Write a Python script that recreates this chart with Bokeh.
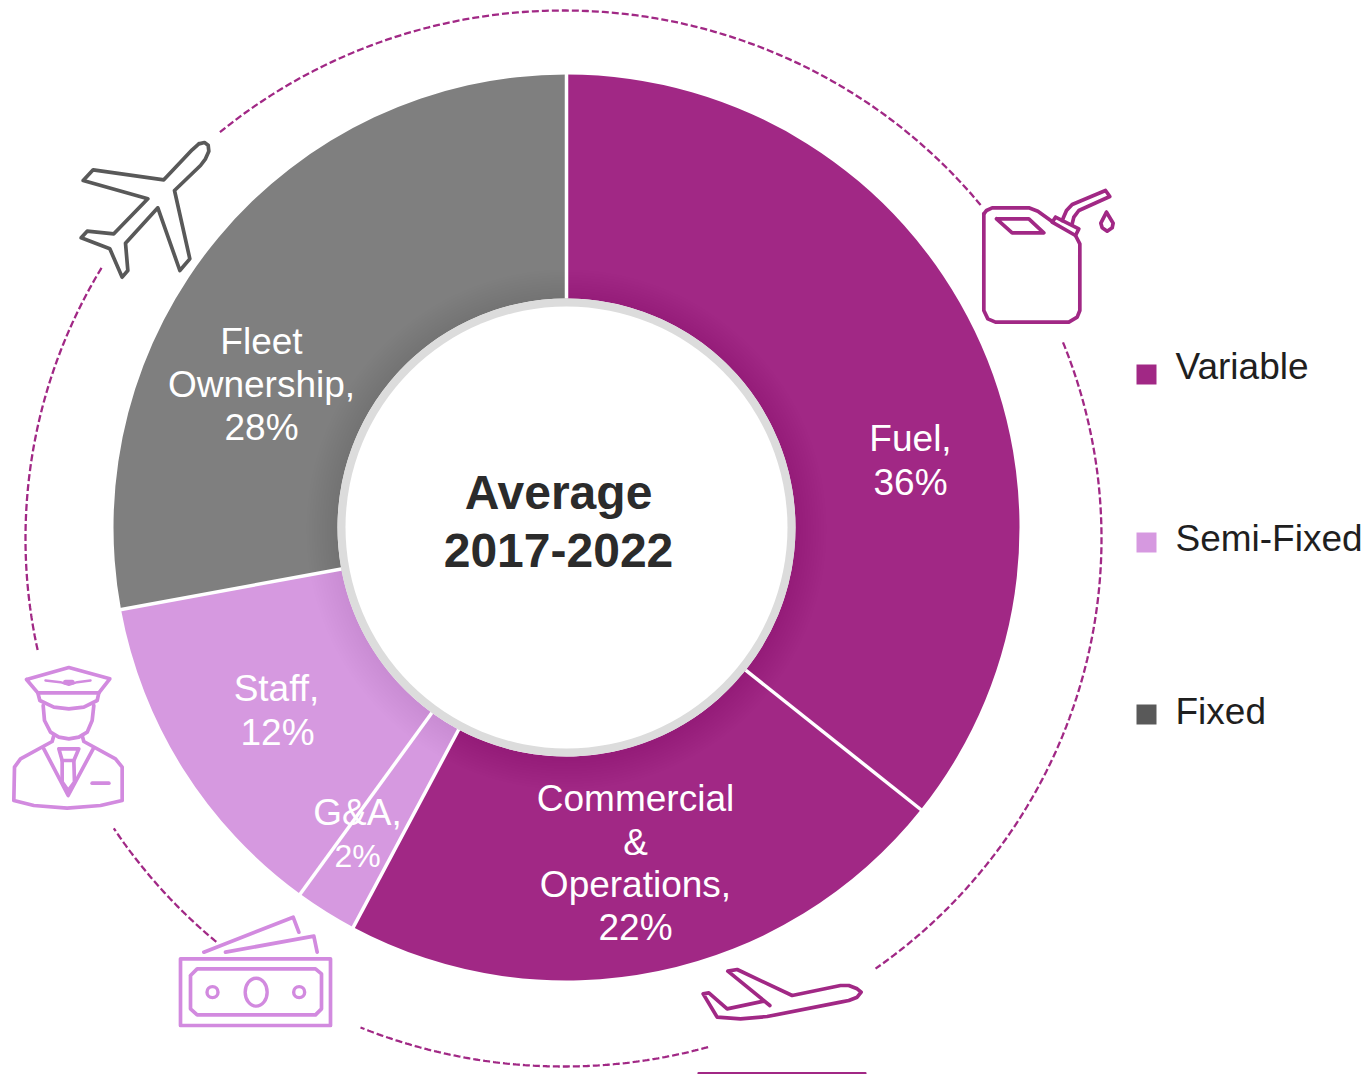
from math import pi, cos, sin
import numpy as np
from bokeh.plotting import figure
from bokeh.models import Range1d
from bokeh.core.properties import value
from bokeh.embed import file_html
from bokeh.resources import INLINE

# ---- data
categories = ["Fuel", "Commercial & Operations", "G&A", "Staff", "Fleet Ownership"]
shares = [35.7, 22.1, 2.2, 12.1, 27.9]
PURPLE, LILAC, GREY, DARK = "#A12885", "#D699E0", "#7F7F7F", "#595959"
slice_colors = [PURPLE, PURPLE, LILAC, LILAC, GREY]
legend_names = ["Variable", "Semi-Fixed", "Fixed"]
legend_colors = [PURPLE, LILAC, DARK]
ICON_LILAC = "#D28ADF"

W, H = 1366, 1074
p = figure(width=W, height=H, output_backend="svg", toolbar_location=None,
           x_range=Range1d(0, W), y_range=Range1d(0, H),
           min_border=0, outline_line_color=None, background_fill_color="white")
p.axis.visible = False
p.grid.visible = False
p.min_border_left = p.min_border_right = p.min_border_top = p.min_border_bottom = 0

def Y(py):
    return 1074 - py

CX, CY = 566, Y(527)
R_OUT, R_RING, R_HOLE = 453, 229, 221

# ---- donut
edges = np.concatenate([[0], np.cumsum(shares)]) / sum(shares)
starts = pi / 2 - edges[:-1] * 2 * pi
ends = pi / 2 - edges[1:] * 2 * pi
p.annular_wedge(x=[CX] * 5, y=[CY] * 5, inner_radius=R_RING, outer_radius=R_OUT,
                start_angle=list(starts), end_angle=list(ends), direction="clock",
                fill_color=slice_colors, line_color=None)

# soft shadow of the centre disc on the ring
for k in range(12):
    p.annulus(x=[CX], y=[CY - 2], inner_radius=R_RING - 2, outer_radius=R_RING + 3 + k * 2.6,
              fill_color="black", fill_alpha=0.0045, line_color=None)

# white separators between the slices
a = pi / 2 - edges[:-1] * 2 * pi
p.segment(x0=list(CX + R_RING * np.cos(a)), y0=list(CY + R_RING * np.sin(a)),
          x1=list(CX + (R_OUT + 1) * np.cos(a)), y1=list(CY + (R_OUT + 1) * np.sin(a)),
          line_color="white", line_width=3.5)

# centre disc
p.circle(x=[CX], y=[CY], radius=R_RING, fill_color="#DCDCDC", line_color=None)
p.circle(x=[CX], y=[CY], radius=R_HOLE, fill_color="white", line_color=None)

# ---- dashed orbit
EX, EY, EA, EB = 563, Y(538), 538, 528
def orbit_pt(px, py):
    return np.arctan2((Y(py) - EY) / EB, (px - EX) / EA)
orbit_sections = [((218, 130), (980, 207)), ((1062, 342), (875, 968)),
                  ((708, 1048), (360, 1027)), ((210, 948), (113, 828)),
                  ((35, 650), (103, 265))]
xs, ys = [], []
for s, e in orbit_sections:
    t0, t1 = orbit_pt(*s), orbit_pt(*e)
    if t1 > t0:
        t1 -= 2 * pi
    t = np.linspace(t0, t1, 160)
    xs.append(list(EX + EA * np.cos(t)))
    ys.append(list(EY + EB * np.sin(t)))
for sx, sy in zip(xs, ys):
    p.line(sx, sy, line_color="#A12885", line_width=2.3, line_dash="7 3")

# ---- icons (traced outlines)
def icon(pts, ox, oy, color, width=3.7, closed=False):
    pts = list(pts) + ([pts[0]] if closed else [])
    p.line([q[0] / 3 + ox for q in pts], [Y(q[1] / 3 + oy) for q in pts],
           line_color=color, line_width=width, line_join="round", line_cap="round")

# jerry can
o = (960, 170)
icon([(70, 130), (78, 120), (95, 112), (205, 112), (232, 122), (278, 155)], *o, PURPLE)
icon([(345, 195), (358, 220), (358, 420), (350, 440), (325, 455), (105, 455), (82, 445), (70, 420), (70, 130)], *o, PURPLE)
icon([(108, 145), (205, 145), (250, 187), (155, 187)], *o, PURPLE, closed=True)
icon([(285, 140), (355, 175), (345, 195), (275, 155)], *o, PURPLE, closed=True)
icon([(305, 150), (318, 120), (335, 102), (435, 60), (448, 78), (355, 120), (340, 140), (335, 160)], *o, PURPLE)
icon([(438, 125), (458, 158), (455, 172), (440, 182), (425, 172), (421, 158)], *o, PURPLE, closed=True)

# grey plane
o = (70, 130)
icon([(385, 40), (402, 36), (413, 44), (415, 62), (405, 85), (390, 105), (312, 180), (358, 385), (328, 420), (262, 232),
      (165, 338), (172, 420), (155, 440), (118, 355), (32, 322), (50, 302), (130, 310), (232, 205),
      (38, 150), (68, 118), (280, 148), (365, 58)], *o, DARK, closed=True)

# pilot
o = (0, 655)
c = ICON_LILAC
icon([(78, 72), (205, 36), (328, 70), (295, 112), (112, 112)], *o, c, closed=True)
icon([(112, 112), (118, 135), (160, 155), (205, 160), (250, 155), (290, 135), (295, 112)], *o, c)
icon([(135, 75), (180, 80), (205, 88), (230, 80), (270, 75)], *o, c, width=2.5)
icon([(195, 80), (215, 80)], *o, c, width=5)
icon([(128, 150), (132, 195), (150, 230), (175, 245), (205, 250), (235, 245), (260, 230), (275, 195), (280, 150)], *o, c)
icon([(160, 240), (155, 258), (60, 310), (42, 335), (40, 435), (100, 450), (200, 458), (300, 450),
      (365, 435), (365, 335), (345, 310), (250, 258), (245, 240)], *o, c)
icon([(130, 280), (203, 420), (278, 280)], *o, c)
icon([(175, 280), (235, 280), (220, 315), (185, 315)], *o, c, closed=True)
icon([(185, 315), (185, 380), (203, 405), (222, 380), (220, 315)], *o, c)
icon([(275, 383), (325, 383)], *o, c, width=3.7)

# banknotes
o = (170, 905)
icon([(30, 160), (480, 160), (480, 360), (30, 360)], *o, c, closed=True)
icon([(60, 210), (80, 190), (435, 190), (453, 205), (453, 310), (435, 328), (80, 328), (60, 310)], *o, c, closed=True)
icon([(100, 140), (368, 35), (385, 80)], *o, c)
icon([(165, 140), (430, 92), (440, 140)], *o, c)
note_x = [257 / 3 + o[0], 126 / 3 + o[0], 386 / 3 + o[0]]
note_y = [Y(260 / 3 + o[1])] * 3
p.ellipse(x=note_x, y=note_y, width=[22, 11, 11], height=[28, 11, 11],
          fill_color=None, line_color=c, line_width=3.4)

# purple plane
o = (690, 955)
icon([(238, 150), (112, 47), (140, 42), (305, 120), (450, 90), (475, 90), (500, 100), (512, 110), (500, 125), (475, 135),
      (450, 140), (230, 183), (150, 190), (80, 185), (38, 115), (55, 112), (110, 160), (220, 137)], *o, PURPLE)
icon([(24, 353), (525, 353)], *o, PURPLE, width=2.2)

# ---- text
FONT = value("Liberation Sans")
slice_labels = [("Fuel,", 910, 438), ("36%", 910, 482),
                ("Commercial", 635, 798), ("&", 635, 842), ("Operations,", 635, 884), ("22%", 635, 927),
                ("G&A,", 357, 812),
                ("Staff,", 276, 688), ("12%", 277, 732),
                ("Fleet", 261, 341), ("Ownership,", 261, 384), ("28%", 261, 427)]
p.text(x=[q[1] for q in slice_labels], y=[Y(q[2]) for q in slice_labels],
       text=[q[0] for q in slice_labels], text_font=FONT, text_font_size="37px",
       text_color="white", text_align="center", text_baseline="middle")
p.text(x=[357], y=[Y(855)], text=["2%"], text_font=FONT, text_font_size="32px",
       text_color="white", text_align="center", text_baseline="middle")

p.text(x=[558, 558], y=[Y(492), Y(550)], text=["Average", "2017-2022"], text_font=FONT,
       text_font_size="48px", text_font_style="bold", text_color="#2B2B2B",
       text_align="center", text_baseline="middle")

legend_py = [374, 542, 714]
legend_text_py = [366, 538, 711]
p.rect(x=[1146] * 3, y=[Y(v) for v in legend_py], width=20, height=20,
       fill_color=legend_colors, line_color=None)
p.text(x=[1175] * 3, y=[Y(v) for v in legend_text_py], text=legend_names, text_font=FONT,
       text_font_size="37px", text_color="#1F1F1F", text_align="left", text_baseline="middle")

open("out.html", "w").write(file_html(p, INLINE))
